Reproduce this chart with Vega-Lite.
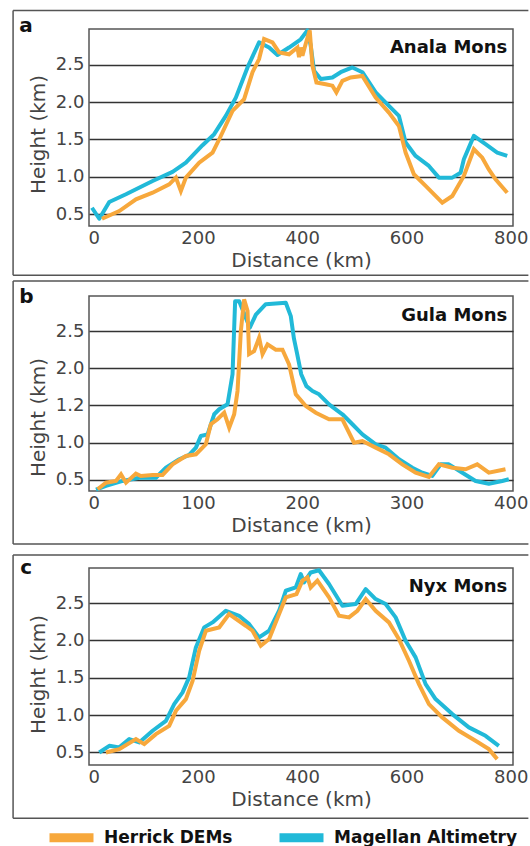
{
  "$schema": "https://vega.github.io/schema/vega-lite/v6.json",
  "padding": {"left": 11, "top": 9, "right": 0, "bottom": 0},
  "spacing": 2,
  "config": {
    "font": "DejaVu Sans",
    "view": {"stroke": "#555", "strokeWidth": 1.5},
    "axis": {
      "grid": true, "gridColor": "#333", "gridWidth": 1.4, "gridOpacity": 1,
      "domain": false, "ticks": false,
      "labelFontSize": 18, "labelColor": "#444",
      "titleFontSize": 20, "titleFontWeight": "normal", "titleColor": "#444"
    },
    "axisX": {"grid": false, "labelPadding": 3, "titlePadding": 3},
    "axisY": {"labelPadding": 5}
  },
  "datasets": {
    "profiles": [
      {"panel": "a", "source": "Magellan Altimetry", "distance_km": -3.5, "height_km": 0.587},
      {"panel": "a", "source": "Magellan Altimetry", "distance_km": 10.5, "height_km": 0.44},
      {"panel": "a", "source": "Magellan Altimetry", "distance_km": 29.7, "height_km": 0.664},
      {"panel": "a", "source": "Magellan Altimetry", "distance_km": 61.7, "height_km": 0.767},
      {"panel": "a", "source": "Magellan Altimetry", "distance_km": 112.9, "height_km": 0.945},
      {"panel": "a", "source": "Magellan Altimetry", "distance_km": 151.2, "height_km": 1.066},
      {"panel": "a", "source": "Magellan Altimetry", "distance_km": 176.7, "height_km": 1.19},
      {"panel": "a", "source": "Magellan Altimetry", "distance_km": 208.7, "height_km": 1.424},
      {"panel": "a", "source": "Magellan Altimetry", "distance_km": 231, "height_km": 1.571},
      {"panel": "a", "source": "Magellan Altimetry", "distance_km": 253.4, "height_km": 1.816},
      {"panel": "a", "source": "Magellan Altimetry", "distance_km": 272.6, "height_km": 2.06},
      {"panel": "a", "source": "Magellan Altimetry", "distance_km": 295, "height_km": 2.464},
      {"panel": "a", "source": "Magellan Altimetry", "distance_km": 317.2, "height_km": 2.8},
      {"panel": "a", "source": "Magellan Altimetry", "distance_km": 336.4, "height_km": 2.73},
      {"panel": "a", "source": "Magellan Altimetry", "distance_km": 352.5, "height_km": 2.63},
      {"panel": "a", "source": "Magellan Altimetry", "distance_km": 374.7, "height_km": 2.73},
      {"panel": "a", "source": "Magellan Altimetry", "distance_km": 397.2, "height_km": 2.84},
      {"panel": "a", "source": "Magellan Altimetry", "distance_km": 410, "height_km": 2.96},
      {"panel": "a", "source": "Magellan Altimetry", "distance_km": 416.3, "height_km": 2.755},
      {"panel": "a", "source": "Magellan Altimetry", "distance_km": 422.7, "height_km": 2.42},
      {"panel": "a", "source": "Magellan Altimetry", "distance_km": 435.5, "height_km": 2.31},
      {"panel": "a", "source": "Magellan Altimetry", "distance_km": 457.9, "height_km": 2.33},
      {"panel": "a", "source": "Magellan Altimetry", "distance_km": 473.8, "height_km": 2.4},
      {"panel": "a", "source": "Magellan Altimetry", "distance_km": 496.3, "height_km": 2.464},
      {"panel": "a", "source": "Magellan Altimetry", "distance_km": 515.4, "height_km": 2.4},
      {"panel": "a", "source": "Magellan Altimetry", "distance_km": 541, "height_km": 2.13},
      {"panel": "a", "source": "Magellan Altimetry", "distance_km": 566.4, "height_km": 1.95},
      {"panel": "a", "source": "Magellan Altimetry", "distance_km": 585.6, "height_km": 1.816},
      {"panel": "a", "source": "Magellan Altimetry", "distance_km": 598.4, "height_km": 1.46},
      {"panel": "a", "source": "Magellan Altimetry", "distance_km": 617.6, "height_km": 1.28},
      {"panel": "a", "source": "Magellan Altimetry", "distance_km": 643.1, "height_km": 1.146},
      {"panel": "a", "source": "Magellan Altimetry", "distance_km": 662.3, "height_km": 0.99},
      {"panel": "a", "source": "Magellan Altimetry", "distance_km": 688, "height_km": 0.99},
      {"panel": "a", "source": "Magellan Altimetry", "distance_km": 703.9, "height_km": 1.056},
      {"panel": "a", "source": "Magellan Altimetry", "distance_km": 710.2, "height_km": 1.236},
      {"panel": "a", "source": "Magellan Altimetry", "distance_km": 729.4, "height_km": 1.548},
      {"panel": "a", "source": "Magellan Altimetry", "distance_km": 751.8, "height_km": 1.437},
      {"panel": "a", "source": "Magellan Altimetry", "distance_km": 774.2, "height_km": 1.325},
      {"panel": "a", "source": "Magellan Altimetry", "distance_km": 793.4, "height_km": 1.28},

      {"panel": "a", "source": "Herrick DEMs", "distance_km": 15.7, "height_km": 0.44},
      {"panel": "a", "source": "Herrick DEMs", "distance_km": 48.9, "height_km": 0.543},
      {"panel": "a", "source": "Herrick DEMs", "distance_km": 80.9, "height_km": 0.7},
      {"panel": "a", "source": "Herrick DEMs", "distance_km": 112.9, "height_km": 0.788},
      {"panel": "a", "source": "Herrick DEMs", "distance_km": 144.7, "height_km": 0.9},
      {"panel": "a", "source": "Herrick DEMs", "distance_km": 157.6, "height_km": 0.99},
      {"panel": "a", "source": "Herrick DEMs", "distance_km": 167.1, "height_km": 0.81},
      {"panel": "a", "source": "Herrick DEMs", "distance_km": 176.7, "height_km": 0.99},
      {"panel": "a", "source": "Herrick DEMs", "distance_km": 202.2, "height_km": 1.19},
      {"panel": "a", "source": "Herrick DEMs", "distance_km": 227.9, "height_km": 1.325},
      {"panel": "a", "source": "Herrick DEMs", "distance_km": 240.6, "height_km": 1.5},
      {"panel": "a", "source": "Herrick DEMs", "distance_km": 266.2, "height_km": 1.883},
      {"panel": "a", "source": "Herrick DEMs", "distance_km": 288.5, "height_km": 2.04},
      {"panel": "a", "source": "Herrick DEMs", "distance_km": 304.6, "height_km": 2.4},
      {"panel": "a", "source": "Herrick DEMs", "distance_km": 317.2, "height_km": 2.576},
      {"panel": "a", "source": "Herrick DEMs", "distance_km": 326.8, "height_km": 2.844},
      {"panel": "a", "source": "Herrick DEMs", "distance_km": 342.9, "height_km": 2.8},
      {"panel": "a", "source": "Herrick DEMs", "distance_km": 355.6, "height_km": 2.665},
      {"panel": "a", "source": "Herrick DEMs", "distance_km": 374.7, "height_km": 2.64},
      {"panel": "a", "source": "Herrick DEMs", "distance_km": 390.8, "height_km": 2.73},
      {"panel": "a", "source": "Herrick DEMs", "distance_km": 393.9, "height_km": 2.6},
      {"panel": "a", "source": "Herrick DEMs", "distance_km": 397, "height_km": 2.73},
      {"panel": "a", "source": "Herrick DEMs", "distance_km": 400.4, "height_km": 2.62},
      {"panel": "a", "source": "Herrick DEMs", "distance_km": 406.7, "height_km": 2.78},
      {"panel": "a", "source": "Herrick DEMs", "distance_km": 414.4, "height_km": 2.96},
      {"panel": "a", "source": "Herrick DEMs", "distance_km": 419.6, "height_km": 2.487},
      {"panel": "a", "source": "Herrick DEMs", "distance_km": 427.3, "height_km": 2.263},
      {"panel": "a", "source": "Herrick DEMs", "distance_km": 445, "height_km": 2.24},
      {"panel": "a", "source": "Herrick DEMs", "distance_km": 457.9, "height_km": 2.22},
      {"panel": "a", "source": "Herrick DEMs", "distance_km": 465.6, "height_km": 2.13},
      {"panel": "a", "source": "Herrick DEMs", "distance_km": 477.1, "height_km": 2.285},
      {"panel": "a", "source": "Herrick DEMs", "distance_km": 493, "height_km": 2.33},
      {"panel": "a", "source": "Herrick DEMs", "distance_km": 515.4, "height_km": 2.35},
      {"panel": "a", "source": "Herrick DEMs", "distance_km": 541, "height_km": 2.06},
      {"panel": "a", "source": "Herrick DEMs", "distance_km": 566.4, "height_km": 1.86},
      {"panel": "a", "source": "Herrick DEMs", "distance_km": 585.6, "height_km": 1.68},
      {"panel": "a", "source": "Herrick DEMs", "distance_km": 598.4, "height_km": 1.325},
      {"panel": "a", "source": "Herrick DEMs", "distance_km": 614.3, "height_km": 1.035},
      {"panel": "a", "source": "Herrick DEMs", "distance_km": 636.8, "height_km": 0.88},
      {"panel": "a", "source": "Herrick DEMs", "distance_km": 668.8, "height_km": 0.654},
      {"panel": "a", "source": "Herrick DEMs", "distance_km": 688, "height_km": 0.744},
      {"panel": "a", "source": "Herrick DEMs", "distance_km": 710.2, "height_km": 1.012},
      {"panel": "a", "source": "Herrick DEMs", "distance_km": 729.4, "height_km": 1.37},
      {"panel": "a", "source": "Herrick DEMs", "distance_km": 745.5, "height_km": 1.257},
      {"panel": "a", "source": "Herrick DEMs", "distance_km": 758.1, "height_km": 1.1},
      {"panel": "a", "source": "Herrick DEMs", "distance_km": 771, "height_km": 0.968},
      {"panel": "a", "source": "Herrick DEMs", "distance_km": 793.4, "height_km": 0.788},

      {"panel": "b", "source": "Magellan Altimetry", "distance_km": 2.1, "height_km": 0.37},
      {"panel": "b", "source": "Magellan Altimetry", "distance_km": 11.7, "height_km": 0.42},
      {"panel": "b", "source": "Magellan Altimetry", "distance_km": 27.7, "height_km": 0.487},
      {"panel": "b", "source": "Magellan Altimetry", "distance_km": 43.6, "height_km": 0.53},
      {"panel": "b", "source": "Magellan Altimetry", "distance_km": 59.6, "height_km": 0.53},
      {"panel": "b", "source": "Magellan Altimetry", "distance_km": 69.2, "height_km": 0.665},
      {"panel": "b", "source": "Magellan Altimetry", "distance_km": 82, "height_km": 0.778},
      {"panel": "b", "source": "Magellan Altimetry", "distance_km": 91.5, "height_km": 0.836},
      {"panel": "b", "source": "Magellan Altimetry", "distance_km": 98, "height_km": 0.934},
      {"panel": "b", "source": "Magellan Altimetry", "distance_km": 102.7, "height_km": 1.09},
      {"panel": "b", "source": "Magellan Altimetry", "distance_km": 109.2, "height_km": 1.113},
      {"panel": "b", "source": "Magellan Altimetry", "distance_km": 115.5, "height_km": 1.382},
      {"panel": "b", "source": "Magellan Altimetry", "distance_km": 120.3, "height_km": 1.449},
      {"panel": "b", "source": "Magellan Altimetry", "distance_km": 128.3, "height_km": 1.516},
      {"panel": "b", "source": "Magellan Altimetry", "distance_km": 133.1, "height_km": 1.92},
      {"panel": "b", "source": "Magellan Altimetry", "distance_km": 135.6, "height_km": 2.9},
      {"panel": "b", "source": "Magellan Altimetry", "distance_km": 139.5, "height_km": 2.9},
      {"panel": "b", "source": "Magellan Altimetry", "distance_km": 149.7, "height_km": 2.545},
      {"panel": "b", "source": "Magellan Altimetry", "distance_km": 155.5, "height_km": 2.72},
      {"panel": "b", "source": "Magellan Altimetry", "distance_km": 165, "height_km": 2.86},
      {"panel": "b", "source": "Magellan Altimetry", "distance_km": 184.2, "height_km": 2.88},
      {"panel": "b", "source": "Magellan Altimetry", "distance_km": 189, "height_km": 2.7},
      {"panel": "b", "source": "Magellan Altimetry", "distance_km": 192, "height_km": 2.4},
      {"panel": "b", "source": "Magellan Altimetry", "distance_km": 195, "height_km": 2.2},
      {"panel": "b", "source": "Magellan Altimetry", "distance_km": 199, "height_km": 1.92},
      {"panel": "b", "source": "Magellan Altimetry", "distance_km": 204, "height_km": 1.76},
      {"panel": "b", "source": "Magellan Altimetry", "distance_km": 209.8, "height_km": 1.695},
      {"panel": "b", "source": "Magellan Altimetry", "distance_km": 216.1, "height_km": 1.65},
      {"panel": "b", "source": "Magellan Altimetry", "distance_km": 225.7, "height_km": 1.516},
      {"panel": "b", "source": "Magellan Altimetry", "distance_km": 238.5, "height_km": 1.382},
      {"panel": "b", "source": "Magellan Altimetry", "distance_km": 248.1, "height_km": 1.248},
      {"panel": "b", "source": "Magellan Altimetry", "distance_km": 257.7, "height_km": 1.113},
      {"panel": "b", "source": "Magellan Altimetry", "distance_km": 270.5, "height_km": 0.979},
      {"panel": "b", "source": "Magellan Altimetry", "distance_km": 280, "height_km": 0.934},
      {"panel": "b", "source": "Magellan Altimetry", "distance_km": 292.8, "height_km": 0.778},
      {"panel": "b", "source": "Magellan Altimetry", "distance_km": 305.6, "height_km": 0.665},
      {"panel": "b", "source": "Magellan Altimetry", "distance_km": 315.2, "height_km": 0.598},
      {"panel": "b", "source": "Magellan Altimetry", "distance_km": 324.8, "height_km": 0.554},
      {"panel": "b", "source": "Magellan Altimetry", "distance_km": 332.8, "height_km": 0.71},
      {"panel": "b", "source": "Magellan Altimetry", "distance_km": 340.7, "height_km": 0.71},
      {"panel": "b", "source": "Magellan Altimetry", "distance_km": 353.6, "height_km": 0.598},
      {"panel": "b", "source": "Magellan Altimetry", "distance_km": 366.3, "height_km": 0.487},
      {"panel": "b", "source": "Magellan Altimetry", "distance_km": 379, "height_km": 0.45},
      {"panel": "b", "source": "Magellan Altimetry", "distance_km": 391.9, "height_km": 0.487},
      {"panel": "b", "source": "Magellan Altimetry", "distance_km": 398.2, "height_km": 0.51},

      {"panel": "b", "source": "Herrick DEMs", "distance_km": 3.7, "height_km": 0.375},
      {"panel": "b", "source": "Herrick DEMs", "distance_km": 11.7, "height_km": 0.464},
      {"panel": "b", "source": "Herrick DEMs", "distance_km": 21.3, "height_km": 0.487},
      {"panel": "b", "source": "Herrick DEMs", "distance_km": 26.1, "height_km": 0.576},
      {"panel": "b", "source": "Herrick DEMs", "distance_km": 30.9, "height_km": 0.464},
      {"panel": "b", "source": "Herrick DEMs", "distance_km": 40.4, "height_km": 0.585},
      {"panel": "b", "source": "Herrick DEMs", "distance_km": 45.2, "height_km": 0.554},
      {"panel": "b", "source": "Herrick DEMs", "distance_km": 56.4, "height_km": 0.567},
      {"panel": "b", "source": "Herrick DEMs", "distance_km": 66, "height_km": 0.567},
      {"panel": "b", "source": "Herrick DEMs", "distance_km": 75.6, "height_km": 0.71},
      {"panel": "b", "source": "Herrick DEMs", "distance_km": 88.4, "height_km": 0.822},
      {"panel": "b", "source": "Herrick DEMs", "distance_km": 98, "height_km": 0.845},
      {"panel": "b", "source": "Herrick DEMs", "distance_km": 107.5, "height_km": 0.979},
      {"panel": "b", "source": "Herrick DEMs", "distance_km": 112.3, "height_km": 1.248},
      {"panel": "b", "source": "Herrick DEMs", "distance_km": 118.7, "height_km": 1.315},
      {"panel": "b", "source": "Herrick DEMs", "distance_km": 125.1, "height_km": 1.403},
      {"panel": "b", "source": "Herrick DEMs", "distance_km": 129.9, "height_km": 1.202},
      {"panel": "b", "source": "Herrick DEMs", "distance_km": 134.7, "height_km": 1.382},
      {"panel": "b", "source": "Herrick DEMs", "distance_km": 137.9, "height_km": 1.695},
      {"panel": "b", "source": "Herrick DEMs", "distance_km": 141.1, "height_km": 2.5},
      {"panel": "b", "source": "Herrick DEMs", "distance_km": 144.2, "height_km": 2.925},
      {"panel": "b", "source": "Herrick DEMs", "distance_km": 147.5, "height_km": 2.77},
      {"panel": "b", "source": "Herrick DEMs", "distance_km": 149, "height_km": 2.19},
      {"panel": "b", "source": "Herrick DEMs", "distance_km": 153.8, "height_km": 2.23},
      {"panel": "b", "source": "Herrick DEMs", "distance_km": 158.6, "height_km": 2.41},
      {"panel": "b", "source": "Herrick DEMs", "distance_km": 161.9, "height_km": 2.19},
      {"panel": "b", "source": "Herrick DEMs", "distance_km": 166.7, "height_km": 2.32},
      {"panel": "b", "source": "Herrick DEMs", "distance_km": 174.6, "height_km": 2.25},
      {"panel": "b", "source": "Herrick DEMs", "distance_km": 181, "height_km": 2.25},
      {"panel": "b", "source": "Herrick DEMs", "distance_km": 187.4, "height_km": 2.05},
      {"panel": "b", "source": "Herrick DEMs", "distance_km": 193.8, "height_km": 1.65},
      {"panel": "b", "source": "Herrick DEMs", "distance_km": 203.4, "height_km": 1.493},
      {"panel": "b", "source": "Herrick DEMs", "distance_km": 213, "height_km": 1.403},
      {"panel": "b", "source": "Herrick DEMs", "distance_km": 225.7, "height_km": 1.315},
      {"panel": "b", "source": "Herrick DEMs", "distance_km": 238.5, "height_km": 1.315},
      {"panel": "b", "source": "Herrick DEMs", "distance_km": 249.7, "height_km": 1.0},
      {"panel": "b", "source": "Herrick DEMs", "distance_km": 257.7, "height_km": 1.023},
      {"panel": "b", "source": "Herrick DEMs", "distance_km": 270.5, "height_km": 0.934},
      {"panel": "b", "source": "Herrick DEMs", "distance_km": 283.2, "height_km": 0.845},
      {"panel": "b", "source": "Herrick DEMs", "distance_km": 296, "height_km": 0.71},
      {"panel": "b", "source": "Herrick DEMs", "distance_km": 308.8, "height_km": 0.598},
      {"panel": "b", "source": "Herrick DEMs", "distance_km": 321.5, "height_km": 0.54},
      {"panel": "b", "source": "Herrick DEMs", "distance_km": 331.1, "height_km": 0.71},
      {"panel": "b", "source": "Herrick DEMs", "distance_km": 344, "height_km": 0.665},
      {"panel": "b", "source": "Herrick DEMs", "distance_km": 356.7, "height_km": 0.644},
      {"panel": "b", "source": "Herrick DEMs", "distance_km": 367.9, "height_km": 0.71},
      {"panel": "b", "source": "Herrick DEMs", "distance_km": 379, "height_km": 0.598},
      {"panel": "b", "source": "Herrick DEMs", "distance_km": 395, "height_km": 0.644},

      {"panel": "c", "source": "Magellan Altimetry", "distance_km": 10.5, "height_km": 0.498},
      {"panel": "c", "source": "Magellan Altimetry", "distance_km": 29.7, "height_km": 0.587},
      {"panel": "c", "source": "Magellan Altimetry", "distance_km": 48.9, "height_km": 0.566},
      {"panel": "c", "source": "Magellan Altimetry", "distance_km": 68, "height_km": 0.677},
      {"panel": "c", "source": "Magellan Altimetry", "distance_km": 87.2, "height_km": 0.633},
      {"panel": "c", "source": "Magellan Altimetry", "distance_km": 112.9, "height_km": 0.789},
      {"panel": "c", "source": "Magellan Altimetry", "distance_km": 138.4, "height_km": 0.922},
      {"panel": "c", "source": "Magellan Altimetry", "distance_km": 154.3, "height_km": 1.146},
      {"panel": "c", "source": "Magellan Altimetry", "distance_km": 170.4, "height_km": 1.303},
      {"panel": "c", "source": "Magellan Altimetry", "distance_km": 183, "height_km": 1.504},
      {"panel": "c", "source": "Magellan Altimetry", "distance_km": 195.9, "height_km": 1.906},
      {"panel": "c", "source": "Magellan Altimetry", "distance_km": 211.8, "height_km": 2.174},
      {"panel": "c", "source": "Magellan Altimetry", "distance_km": 227.9, "height_km": 2.241},
      {"panel": "c", "source": "Magellan Altimetry", "distance_km": 253.4, "height_km": 2.397},
      {"panel": "c", "source": "Magellan Altimetry", "distance_km": 278.9, "height_km": 2.33},
      {"panel": "c", "source": "Magellan Altimetry", "distance_km": 298.1, "height_km": 2.218},
      {"panel": "c", "source": "Magellan Altimetry", "distance_km": 317.2, "height_km": 2.04},
      {"panel": "c", "source": "Magellan Altimetry", "distance_km": 336.4, "height_km": 2.129},
      {"panel": "c", "source": "Magellan Altimetry", "distance_km": 355.6, "height_km": 2.397},
      {"panel": "c", "source": "Magellan Altimetry", "distance_km": 368.4, "height_km": 2.665},
      {"panel": "c", "source": "Magellan Altimetry", "distance_km": 387.6, "height_km": 2.71},
      {"panel": "c", "source": "Magellan Altimetry", "distance_km": 397.2, "height_km": 2.889},
      {"panel": "c", "source": "Magellan Altimetry", "distance_km": 403.5, "height_km": 2.777},
      {"panel": "c", "source": "Magellan Altimetry", "distance_km": 416.3, "height_km": 2.91},
      {"panel": "c", "source": "Magellan Altimetry", "distance_km": 432.2, "height_km": 2.94},
      {"panel": "c", "source": "Magellan Altimetry", "distance_km": 451.4, "height_km": 2.755},
      {"panel": "c", "source": "Magellan Altimetry", "distance_km": 477.1, "height_km": 2.464},
      {"panel": "c", "source": "Magellan Altimetry", "distance_km": 502.6, "height_km": 2.487},
      {"panel": "c", "source": "Magellan Altimetry", "distance_km": 521.8, "height_km": 2.688},
      {"panel": "c", "source": "Magellan Altimetry", "distance_km": 540.9, "height_km": 2.554},
      {"panel": "c", "source": "Magellan Altimetry", "distance_km": 560.1, "height_km": 2.487},
      {"panel": "c", "source": "Magellan Altimetry", "distance_km": 579.3, "height_km": 2.308},
      {"panel": "c", "source": "Magellan Altimetry", "distance_km": 598.4, "height_km": 1.995},
      {"panel": "c", "source": "Magellan Altimetry", "distance_km": 617.6, "height_km": 1.772},
      {"panel": "c", "source": "Magellan Altimetry", "distance_km": 636.8, "height_km": 1.414},
      {"panel": "c", "source": "Magellan Altimetry", "distance_km": 655.9, "height_km": 1.213},
      {"panel": "c", "source": "Magellan Altimetry", "distance_km": 688, "height_km": 1.012},
      {"panel": "c", "source": "Magellan Altimetry", "distance_km": 719.8, "height_km": 0.834},
      {"panel": "c", "source": "Magellan Altimetry", "distance_km": 751.8, "height_km": 0.721},
      {"panel": "c", "source": "Magellan Altimetry", "distance_km": 777.3, "height_km": 0.587},

      {"panel": "c", "source": "Herrick DEMs", "distance_km": 23.4, "height_km": 0.498},
      {"panel": "c", "source": "Herrick DEMs", "distance_km": 48.9, "height_km": 0.543},
      {"panel": "c", "source": "Herrick DEMs", "distance_km": 80.9, "height_km": 0.677},
      {"panel": "c", "source": "Herrick DEMs", "distance_km": 96.8, "height_km": 0.61},
      {"panel": "c", "source": "Herrick DEMs", "distance_km": 119.2, "height_km": 0.744},
      {"panel": "c", "source": "Herrick DEMs", "distance_km": 144.7, "height_km": 0.855},
      {"panel": "c", "source": "Herrick DEMs", "distance_km": 157.6, "height_km": 1.056},
      {"panel": "c", "source": "Herrick DEMs", "distance_km": 176.7, "height_km": 1.213},
      {"panel": "c", "source": "Herrick DEMs", "distance_km": 189.6, "height_km": 1.458},
      {"panel": "c", "source": "Herrick DEMs", "distance_km": 202.2, "height_km": 1.86},
      {"panel": "c", "source": "Herrick DEMs", "distance_km": 215.1, "height_km": 2.129},
      {"panel": "c", "source": "Herrick DEMs", "distance_km": 240.6, "height_km": 2.174},
      {"panel": "c", "source": "Herrick DEMs", "distance_km": 259.7, "height_km": 2.353},
      {"panel": "c", "source": "Herrick DEMs", "distance_km": 291.7, "height_km": 2.196},
      {"panel": "c", "source": "Herrick DEMs", "distance_km": 304.6, "height_km": 2.129},
      {"panel": "c", "source": "Herrick DEMs", "distance_km": 320.5, "height_km": 1.928},
      {"panel": "c", "source": "Herrick DEMs", "distance_km": 336.4, "height_km": 2.017},
      {"panel": "c", "source": "Herrick DEMs", "distance_km": 355.6, "height_km": 2.353},
      {"panel": "c", "source": "Herrick DEMs", "distance_km": 368.4, "height_km": 2.576},
      {"panel": "c", "source": "Herrick DEMs", "distance_km": 389, "height_km": 2.62},
      {"panel": "c", "source": "Herrick DEMs", "distance_km": 400.4, "height_km": 2.8},
      {"panel": "c", "source": "Herrick DEMs", "distance_km": 410, "height_km": 2.845},
      {"panel": "c", "source": "Herrick DEMs", "distance_km": 416.3, "height_km": 2.71},
      {"panel": "c", "source": "Herrick DEMs", "distance_km": 429.1, "height_km": 2.8},
      {"panel": "c", "source": "Herrick DEMs", "distance_km": 451.4, "height_km": 2.576},
      {"panel": "c", "source": "Herrick DEMs", "distance_km": 470.6, "height_km": 2.33},
      {"panel": "c", "source": "Herrick DEMs", "distance_km": 489.8, "height_km": 2.308},
      {"panel": "c", "source": "Herrick DEMs", "distance_km": 505.8, "height_km": 2.397},
      {"panel": "c", "source": "Herrick DEMs", "distance_km": 521.8, "height_km": 2.554},
      {"panel": "c", "source": "Herrick DEMs", "distance_km": 540.9, "height_km": 2.397},
      {"panel": "c", "source": "Herrick DEMs", "distance_km": 566.4, "height_km": 2.241},
      {"panel": "c", "source": "Herrick DEMs", "distance_km": 585.6, "height_km": 2.017},
      {"panel": "c", "source": "Herrick DEMs", "distance_km": 604.8, "height_km": 1.727},
      {"panel": "c", "source": "Herrick DEMs", "distance_km": 624, "height_km": 1.414},
      {"panel": "c", "source": "Herrick DEMs", "distance_km": 643.1, "height_km": 1.146},
      {"panel": "c", "source": "Herrick DEMs", "distance_km": 668.8, "height_km": 0.968},
      {"panel": "c", "source": "Herrick DEMs", "distance_km": 700.6, "height_km": 0.789},
      {"panel": "c", "source": "Herrick DEMs", "distance_km": 732.6, "height_km": 0.654},
      {"panel": "c", "source": "Herrick DEMs", "distance_km": 758.1, "height_km": 0.543},
      {"panel": "c", "source": "Herrick DEMs", "distance_km": 774.2, "height_km": 0.409}
    ]
  },
  "vconcat": [
    {
      "width": 424,
      "height": 197,
      "layer": [
        {
          "data": {"name": "profiles"},
          "transform": [{"filter": "datum.panel === 'a' && datum.source === 'Magellan Altimetry'"}],
          "mark": {"type": "line", "strokeWidth": 4, "strokeJoin": "round"},
          "encoding": {
            "x": {"field": "distance_km", "type": "quantitative", "scale": {"domain": [-9.2, 804.5], "nice": false, "zero": false},
                  "axis": {"values": [0, 200, 400, 600, 800], "title": "Distance (km)"}},
            "y": {"field": "height_km", "type": "quantitative", "scale": {"domain": [0.343, 2.978], "nice": false, "zero": false},
                  "axis": {"values": [0.5, 1, 1.5, 2, 2.5], "format": ".1f", "title": "Height (km)", "titleX": -51, "titleY": 105, "titleBaseline": "middle"}},
            "color": {"field": "source", "type": "nominal",
                      "scale": {"domain": ["Herrick DEMs", "Magellan Altimetry"], "range": ["#F7A83C", "#21B9D8"]},
                      "legend": {"title": null, "orient": "none", "legendX": -44, "legendY": 782, "direction": "horizontal",
                                 "symbolType": "stroke", "symbolSize": 1936, "symbolStrokeWidth": 9,
                                 "labelFontSize": 17, "labelFontWeight": "bold", "labelColor": "#111",
                                 "labelOffset": 6, "columnPadding": 28, "labelLimit": 300}}
          }
        },
        {
          "data": {"name": "profiles"},
          "transform": [{"filter": "datum.panel === 'a' && datum.source === 'Herrick DEMs'"}],
          "mark": {"type": "line", "strokeWidth": 4, "strokeJoin": "miter"},
          "encoding": {
            "x": {"field": "distance_km", "type": "quantitative", "scale": {"domain": [-9.2, 804.5], "nice": false, "zero": false},
                  "axis": {"values": [0, 200, 400, 600, 800], "title": "Distance (km)"}},
            "y": {"field": "height_km", "type": "quantitative", "scale": {"domain": [0.343, 2.978], "nice": false, "zero": false},
                  "axis": {"values": [0.5, 1, 1.5, 2, 2.5], "format": ".1f", "title": "Height (km)", "titleX": -51, "titleY": 105, "titleBaseline": "middle"}},
            "color": {"field": "source", "type": "nominal",
                      "scale": {"domain": ["Herrick DEMs", "Magellan Altimetry"], "range": ["#F7A83C", "#21B9D8"]}}
          }
        },
        {
          "data": {"values": [{}]},
          "mark": {"type": "rule", "color": "#555", "strokeWidth": 1.5},
          "encoding": {
            "x": {"datum": -154.9, "scale": {"domain": [-9.2, 804.5], "nice": false, "zero": false},
                  "axis": {"values": [0, 200, 400, 600, 800], "title": "Distance (km)"}},
            "x2": {"datum": 834},
            "y": {"datum": 3.224, "scale": {"domain": [0.343, 2.978], "nice": false, "zero": false},
                  "axis": {"values": [0.5, 1, 1.5, 2, 2.5], "format": ".1f", "title": "Height (km)", "titleX": -51, "titleY": 105, "titleBaseline": "middle"}}
          }
        },
        {
          "data": {"values": [{}]},
          "mark": {"type": "rule", "color": "#555", "strokeWidth": 1.5},
          "encoding": {
            "x": {"datum": -154.9, "scale": {"domain": [-9.2, 804.5], "nice": false, "zero": false},
                  "axis": {"values": [0, 200, 400, 600, 800], "title": "Distance (km)"}},
            "x2": {"datum": 834},
            "y": {"datum": -0.315, "scale": {"domain": [0.343, 2.978], "nice": false, "zero": false},
                  "axis": {"values": [0.5, 1, 1.5, 2, 2.5], "format": ".1f", "title": "Height (km)", "titleX": -51, "titleY": 105, "titleBaseline": "middle"}}
          }
        },
        {
          "data": {"values": [{}]},
          "mark": {"type": "rule", "color": "#555", "strokeWidth": 1.5},
          "encoding": {
            "x": {"datum": -154.9, "scale": {"domain": [-9.2, 804.5], "nice": false, "zero": false},
                  "axis": {"values": [0, 200, 400, 600, 800], "title": "Distance (km)"}},
            "y": {"datum": 3.224, "scale": {"domain": [0.343, 2.978], "nice": false, "zero": false},
                  "axis": {"values": [0.5, 1, 1.5, 2, 2.5], "format": ".1f", "title": "Height (km)", "titleX": -51, "titleY": 105, "titleBaseline": "middle"}},
            "y2": {"datum": -0.315}
          }
        },
        {
          "data": {"values": [{}]},
          "mark": {"type": "text", "text": "a", "fontSize": 20, "fontWeight": "bold", "align": "center", "baseline": "middle", "color": "#111"},
          "encoding": {
            "x": {"datum": -130, "scale": {"domain": [-9.2, 804.5], "nice": false, "zero": false},
                  "axis": {"values": [0, 200, 400, 600, 800], "title": "Distance (km)"}},
            "y": {"datum": 3.02, "scale": {"domain": [0.343, 2.978], "nice": false, "zero": false},
                  "axis": {"values": [0.5, 1, 1.5, 2, 2.5], "format": ".1f", "title": "Height (km)", "titleX": -51, "titleY": 105, "titleBaseline": "middle"}}
          }
        },
        {
          "data": {"values": [{}]},
          "mark": {"type": "text", "text": "Anala Mons", "fontSize": 18, "fontWeight": "bold", "align": "right", "baseline": "middle", "color": "#111"},
          "encoding": {
            "x": {"datum": 793.4, "scale": {"domain": [-9.2, 804.5], "nice": false, "zero": false},
                  "axis": {"values": [0, 200, 400, 600, 800], "title": "Distance (km)"}},
            "y": {"datum": 2.72, "scale": {"domain": [0.343, 2.978], "nice": false, "zero": false},
                  "axis": {"values": [0.5, 1, 1.5, 2, 2.5], "format": ".1f", "title": "Height (km)", "titleX": -51, "titleY": 105, "titleBaseline": "middle"}}
          }
        }
      ]
    },
    {
      "spacing": 7,
      "vconcat": [
        {
          "width": 424,
          "height": 195,
          "layer": [
            {
              "data": {"name": "profiles"},
              "transform": [{"filter": "datum.panel === 'b' && datum.source === 'Magellan Altimetry'"}],
              "mark": {"type": "line", "strokeWidth": 4, "strokeJoin": "round"},
              "encoding": {
                "x": {"field": "distance_km", "type": "quantitative", "scale": {"domain": [-4.6, 402.2], "nice": false, "zero": false},
                      "axis": {"values": [0, 100, 200, 300, 400], "title": "Distance (km)"}},
                "y": {"field": "height_km", "type": "quantitative", "scale": {"domain": [0.352, 2.97], "nice": false, "zero": false},
                      "axis": {"values": [0.5, 1, 1.5, 2, 2.5], "labelExpr": "abs(datum.value - 1.5) < 0.01 ? '1.2' : format(datum.value, '.1f')", "title": "Height (km)", "titleX": -51, "titleY": 121, "titleBaseline": "middle"}},
                "color": {"field": "source", "type": "nominal",
                          "scale": {"domain": ["Herrick DEMs", "Magellan Altimetry"], "range": ["#F7A83C", "#21B9D8"]}}
              }
            },
            {
              "data": {"name": "profiles"},
              "transform": [{"filter": "datum.panel === 'b' && datum.source === 'Herrick DEMs'"}],
              "mark": {"type": "line", "strokeWidth": 4, "strokeJoin": "miter"},
              "encoding": {
                "x": {"field": "distance_km", "type": "quantitative", "scale": {"domain": [-4.6, 402.2], "nice": false, "zero": false},
                      "axis": {"values": [0, 100, 200, 300, 400], "title": "Distance (km)"}},
                "y": {"field": "height_km", "type": "quantitative", "scale": {"domain": [0.352, 2.97], "nice": false, "zero": false},
                      "axis": {"values": [0.5, 1, 1.5, 2, 2.5], "labelExpr": "abs(datum.value - 1.5) < 0.01 ? '1.2' : format(datum.value, '.1f')", "title": "Height (km)", "titleX": -51, "titleY": 121, "titleBaseline": "middle"}},
                "color": {"field": "source", "type": "nominal",
                          "scale": {"domain": ["Herrick DEMs", "Magellan Altimetry"], "range": ["#F7A83C", "#21B9D8"]}}
              }
            },
            {
              "data": {"values": [{}]},
              "mark": {"type": "rule", "color": "#555", "strokeWidth": 1.5},
              "encoding": {
                "x": {"datum": -77.4, "scale": {"domain": [-4.6, 402.2], "nice": false, "zero": false},
                      "axis": {"values": [0, 100, 200, 300, 400], "title": "Distance (km)"}},
                "x2": {"datum": 417},
                "y": {"datum": 3.171, "scale": {"domain": [0.352, 2.97], "nice": false, "zero": false},
                      "axis": {"values": [0.5, 1, 1.5, 2, 2.5], "labelExpr": "abs(datum.value - 1.5) < 0.01 ? '1.2' : format(datum.value, '.1f')", "title": "Height (km)", "titleX": -51, "titleY": 121, "titleBaseline": "middle"}}
              }
            },
            {
              "data": {"values": [{}]},
              "mark": {"type": "rule", "color": "#555", "strokeWidth": 1.5},
              "encoding": {
                "x": {"datum": -77.4, "scale": {"domain": [-4.6, 402.2], "nice": false, "zero": false},
                      "axis": {"values": [0, 100, 200, 300, 400], "title": "Distance (km)"}},
                "x2": {"datum": 417},
                "y": {"datum": -0.359, "scale": {"domain": [0.352, 2.97], "nice": false, "zero": false},
                      "axis": {"values": [0.5, 1, 1.5, 2, 2.5], "labelExpr": "abs(datum.value - 1.5) < 0.01 ? '1.2' : format(datum.value, '.1f')", "title": "Height (km)", "titleX": -51, "titleY": 121, "titleBaseline": "middle"}}
              }
            },
            {
              "data": {"values": [{}]},
              "mark": {"type": "rule", "color": "#555", "strokeWidth": 1.5},
              "encoding": {
                "x": {"datum": -77.4, "scale": {"domain": [-4.6, 402.2], "nice": false, "zero": false},
                      "axis": {"values": [0, 100, 200, 300, 400], "title": "Distance (km)"}},
                "y": {"datum": 3.171, "scale": {"domain": [0.352, 2.97], "nice": false, "zero": false},
                      "axis": {"values": [0.5, 1, 1.5, 2, 2.5], "labelExpr": "abs(datum.value - 1.5) < 0.01 ? '1.2' : format(datum.value, '.1f')", "title": "Height (km)", "titleX": -51, "titleY": 121, "titleBaseline": "middle"}},
                "y2": {"datum": -0.359}
              }
            },
            {
              "data": {"values": [{}]},
              "mark": {"type": "text", "text": "b", "fontSize": 20, "fontWeight": "bold", "align": "center", "baseline": "middle", "color": "#111"},
              "encoding": {
                "x": {"datum": -64.7, "scale": {"domain": [-4.6, 402.2], "nice": false, "zero": false},
                      "axis": {"values": [0, 100, 200, 300, 400], "title": "Distance (km)"}},
                "y": {"datum": 2.95, "scale": {"domain": [0.352, 2.97], "nice": false, "zero": false},
                      "axis": {"values": [0.5, 1, 1.5, 2, 2.5], "labelExpr": "abs(datum.value - 1.5) < 0.01 ? '1.2' : format(datum.value, '.1f')", "title": "Height (km)", "titleX": -51, "titleY": 121, "titleBaseline": "middle"}}
              }
            },
            {
              "data": {"values": [{}]},
              "mark": {"type": "text", "text": "Gula Mons", "fontSize": 18, "fontWeight": "bold", "align": "right", "baseline": "middle", "color": "#111"},
              "encoding": {
                "x": {"datum": 396.7, "scale": {"domain": [-4.6, 402.2], "nice": false, "zero": false},
                      "axis": {"values": [0, 100, 200, 300, 400], "title": "Distance (km)"}},
                "y": {"datum": 2.7, "scale": {"domain": [0.352, 2.97], "nice": false, "zero": false},
                      "axis": {"values": [0.5, 1, 1.5, 2, 2.5], "labelExpr": "abs(datum.value - 1.5) < 0.01 ? '1.2' : format(datum.value, '.1f')", "title": "Height (km)", "titleX": -51, "titleY": 121, "titleBaseline": "middle"}}
              }
            }
          ]
        },
        {
          "width": 424,
          "height": 197,
          "layer": [
            {
              "data": {"name": "profiles"},
              "transform": [{"filter": "datum.panel === 'c' && datum.source === 'Magellan Altimetry'"}],
              "mark": {"type": "line", "strokeWidth": 4, "strokeJoin": "round"},
              "encoding": {
                "x": {"field": "distance_km", "type": "quantitative", "scale": {"domain": [-9.2, 804.5], "nice": false, "zero": false},
                      "axis": {"values": [0, 200, 400, 600, 800], "title": "Distance (km)"}},
                "y": {"field": "height_km", "type": "quantitative", "scale": {"domain": [0.33, 2.97], "nice": false, "zero": false},
                      "axis": {"values": [0.5, 1, 1.5, 2, 2.5], "format": ".1f", "title": "Height (km)", "titleX": -51, "titleY": 106, "titleBaseline": "middle"}},
                "color": {"field": "source", "type": "nominal",
                          "scale": {"domain": ["Herrick DEMs", "Magellan Altimetry"], "range": ["#F7A83C", "#21B9D8"]}}
              }
            },
            {
              "data": {"name": "profiles"},
              "transform": [{"filter": "datum.panel === 'c' && datum.source === 'Herrick DEMs'"}],
              "mark": {"type": "line", "strokeWidth": 4, "strokeJoin": "miter"},
              "encoding": {
                "x": {"field": "distance_km", "type": "quantitative", "scale": {"domain": [-9.2, 804.5], "nice": false, "zero": false},
                      "axis": {"values": [0, 200, 400, 600, 800], "title": "Distance (km)"}},
                "y": {"field": "height_km", "type": "quantitative", "scale": {"domain": [0.33, 2.97], "nice": false, "zero": false},
                      "axis": {"values": [0.5, 1, 1.5, 2, 2.5], "format": ".1f", "title": "Height (km)", "titleX": -51, "titleY": 106, "titleBaseline": "middle"}},
                "color": {"field": "source", "type": "nominal",
                          "scale": {"domain": ["Herrick DEMs", "Magellan Altimetry"], "range": ["#F7A83C", "#21B9D8"]}}
              }
            },
            {
              "data": {"values": [{}]},
              "mark": {"type": "rule", "color": "#555", "strokeWidth": 1.5},
              "encoding": {
                "x": {"datum": -154.9, "scale": {"domain": [-9.2, 804.5], "nice": false, "zero": false},
                      "axis": {"values": [0, 200, 400, 600, 800], "title": "Distance (km)"}},
                "x2": {"datum": 834},
                "y": {"datum": 3.143, "scale": {"domain": [0.33, 2.97], "nice": false, "zero": false},
                      "axis": {"values": [0.5, 1, 1.5, 2, 2.5], "format": ".1f", "title": "Height (km)", "titleX": -51, "titleY": 106, "titleBaseline": "middle"}}
              }
            },
            {
              "data": {"values": [{}]},
              "mark": {"type": "rule", "color": "#555", "strokeWidth": 1.5},
              "encoding": {
                "x": {"datum": -154.9, "scale": {"domain": [-9.2, 804.5], "nice": false, "zero": false},
                      "axis": {"values": [0, 200, 400, 600, 800], "title": "Distance (km)"}},
                "x2": {"datum": 834},
                "y": {"datum": -0.382, "scale": {"domain": [0.33, 2.97], "nice": false, "zero": false},
                      "axis": {"values": [0.5, 1, 1.5, 2, 2.5], "format": ".1f", "title": "Height (km)", "titleX": -51, "titleY": 106, "titleBaseline": "middle"}}
              }
            },
            {
              "data": {"values": [{}]},
              "mark": {"type": "rule", "color": "#555", "strokeWidth": 1.5},
              "encoding": {
                "x": {"datum": -154.9, "scale": {"domain": [-9.2, 804.5], "nice": false, "zero": false},
                      "axis": {"values": [0, 200, 400, 600, 800], "title": "Distance (km)"}},
                "y": {"datum": 3.143, "scale": {"domain": [0.33, 2.97], "nice": false, "zero": false},
                      "axis": {"values": [0.5, 1, 1.5, 2, 2.5], "format": ".1f", "title": "Height (km)", "titleX": -51, "titleY": 106, "titleBaseline": "middle"}},
                "y2": {"datum": -0.382}
              }
            },
            {
              "data": {"values": [{}]},
              "mark": {"type": "text", "text": "c", "fontSize": 20, "fontWeight": "bold", "align": "center", "baseline": "middle", "color": "#111"},
              "encoding": {
                "x": {"datum": -130, "scale": {"domain": [-9.2, 804.5], "nice": false, "zero": false},
                      "axis": {"values": [0, 200, 400, 600, 800], "title": "Distance (km)"}},
                "y": {"datum": 2.97, "scale": {"domain": [0.33, 2.97], "nice": false, "zero": false},
                      "axis": {"values": [0.5, 1, 1.5, 2, 2.5], "format": ".1f", "title": "Height (km)", "titleX": -51, "titleY": 106, "titleBaseline": "middle"}}
              }
            },
            {
              "data": {"values": [{}]},
              "mark": {"type": "text", "text": "Nyx Mons", "fontSize": 18, "fontWeight": "bold", "align": "right", "baseline": "middle", "color": "#111"},
              "encoding": {
                "x": {"datum": 793.4, "scale": {"domain": [-9.2, 804.5], "nice": false, "zero": false},
                      "axis": {"values": [0, 200, 400, 600, 800], "title": "Distance (km)"}},
                "y": {"datum": 2.71, "scale": {"domain": [0.33, 2.97], "nice": false, "zero": false},
                      "axis": {"values": [0.5, 1, 1.5, 2, 2.5], "format": ".1f", "title": "Height (km)", "titleX": -51, "titleY": 106, "titleBaseline": "middle"}}
              }
            }
          ]
        }
      ]
    }
  ]
}
